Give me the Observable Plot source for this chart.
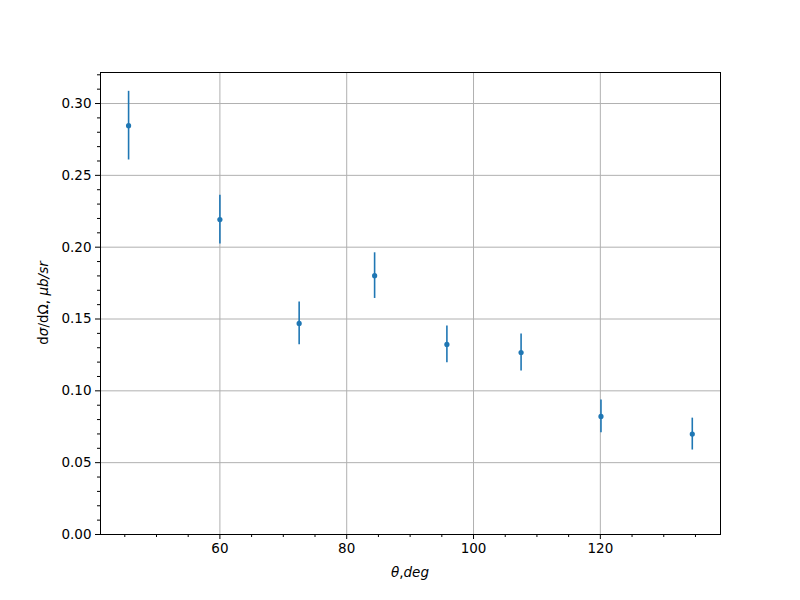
<!DOCTYPE html>
<html>
<head>
<meta charset="utf-8">
<script src="https://cdn.jsdelivr.net/npm/d3@7"></script>
<script src="https://cdn.jsdelivr.net/npm/@observablehq/plot@0.6"></script>
<style>
  html, body { margin: 0; padding: 0; background: #fff; }
  svg { font-family: "DejaVu Sans", sans-serif; }
</style>
</head>
<body>
<div id="chart"></div>
<script>
// Data
const theta = [45.6, 60.0, 72.5, 84.4, 95.8, 107.5, 120.1, 134.5];
const xsec  = [0.2846, 0.2192, 0.1469, 0.1802, 0.1323, 0.1267, 0.0822, 0.0699];
const err   = [0.0239, 0.0170, 0.0149, 0.0159, 0.0128, 0.0128, 0.0114, 0.0111];

const xMajor = [60, 80, 100, 120];
const xMinor = [45, 50, 55, 65, 70, 75, 85, 90, 95, 105, 110, 115, 125, 130, 135];
const yMajor = [0.00, 0.05, 0.10, 0.15, 0.20, 0.25, 0.30];
const yMinor = [0.01, 0.02, 0.03, 0.04, 0.06, 0.07, 0.08, 0.09, 0.11, 0.12, 0.13, 0.14,
                0.16, 0.17, 0.18, 0.19, 0.21, 0.22, 0.23, 0.24, 0.26, 0.27, 0.28, 0.29, 0.31, 0.32];

const data = theta.map((t, i) => ({x: t, y: xsec[i], lo: xsec[i] - err[i], hi: xsec[i] + err[i]}));
const color = "#1f77b4";

const chart = Plot.plot({
  width: 800,
  height: 600,
  marginLeft: 100,
  marginRight: 80,
  marginTop: 72,
  marginBottom: 66,
  style: {fontFamily: "DejaVu Sans, sans-serif", fontSize: "13.5px", color: "#000", background: "#fff"},
  x: {domain: [41.17, 138.95]},
  y: {domain: [0, 0.3216]},
  marks: [
    Plot.gridX(xMajor, {stroke: "#b0b0b0", strokeOpacity: 1, strokeWidth: 1}),
    Plot.gridY(yMajor, {stroke: "#b0b0b0", strokeOpacity: 1, strokeWidth: 1}),
    Plot.axisX(xMajor, {tickSize: 5, tickPadding: 4, label: null, tickFormat: d => String(d), fontSize: 13.5}),
    Plot.axisX(xMinor, {tickSize: 3, text: null, label: null}),
    Plot.axisY(yMajor, {tickSize: 5, tickPadding: 4, label: null, tickFormat: d => d.toFixed(2), fontSize: 13.5}),
    Plot.axisY(yMinor, {tickSize: 3, text: null, label: null}),
    Plot.ruleX(data, {x: "x", y1: "lo", y2: "hi", stroke: color, strokeWidth: 1.6}),
    Plot.dot(data, {x: "x", y: "y", r: 2.6, fill: color, stroke: "none"}),
    Plot.frame({stroke: "#000", strokeWidth: 1})
  ]
});

document.getElementById("chart").appendChild(chart);

// Axis labels with mixed italic styles (matplotlib mathtext look)
const svg = d3.select(chart);
const xl = svg.append("text")
  .attr("x", 410).attr("y", 577)
  .attr("text-anchor", "middle")
  .style("font-family", "DejaVu Sans, sans-serif")
  .style("font-size", "13.5px");
xl.append("tspan").style("font-style", "italic").text("θ");
xl.append("tspan").text(",");
xl.append("tspan").style("font-style", "italic").text("deg");

const yl = svg.append("text")
  .attr("transform", "translate(48,303) rotate(-90)")
  .attr("text-anchor", "middle")
  .style("font-family", "DejaVu Sans, sans-serif")
  .style("font-size", "13.5px");
yl.append("tspan").text("d");
yl.append("tspan").style("font-style", "italic").text("σ");
yl.append("tspan").text("/dΩ, ");
yl.append("tspan").style("font-style", "italic").text("μb/sr");
</script>
</body>
</html>
